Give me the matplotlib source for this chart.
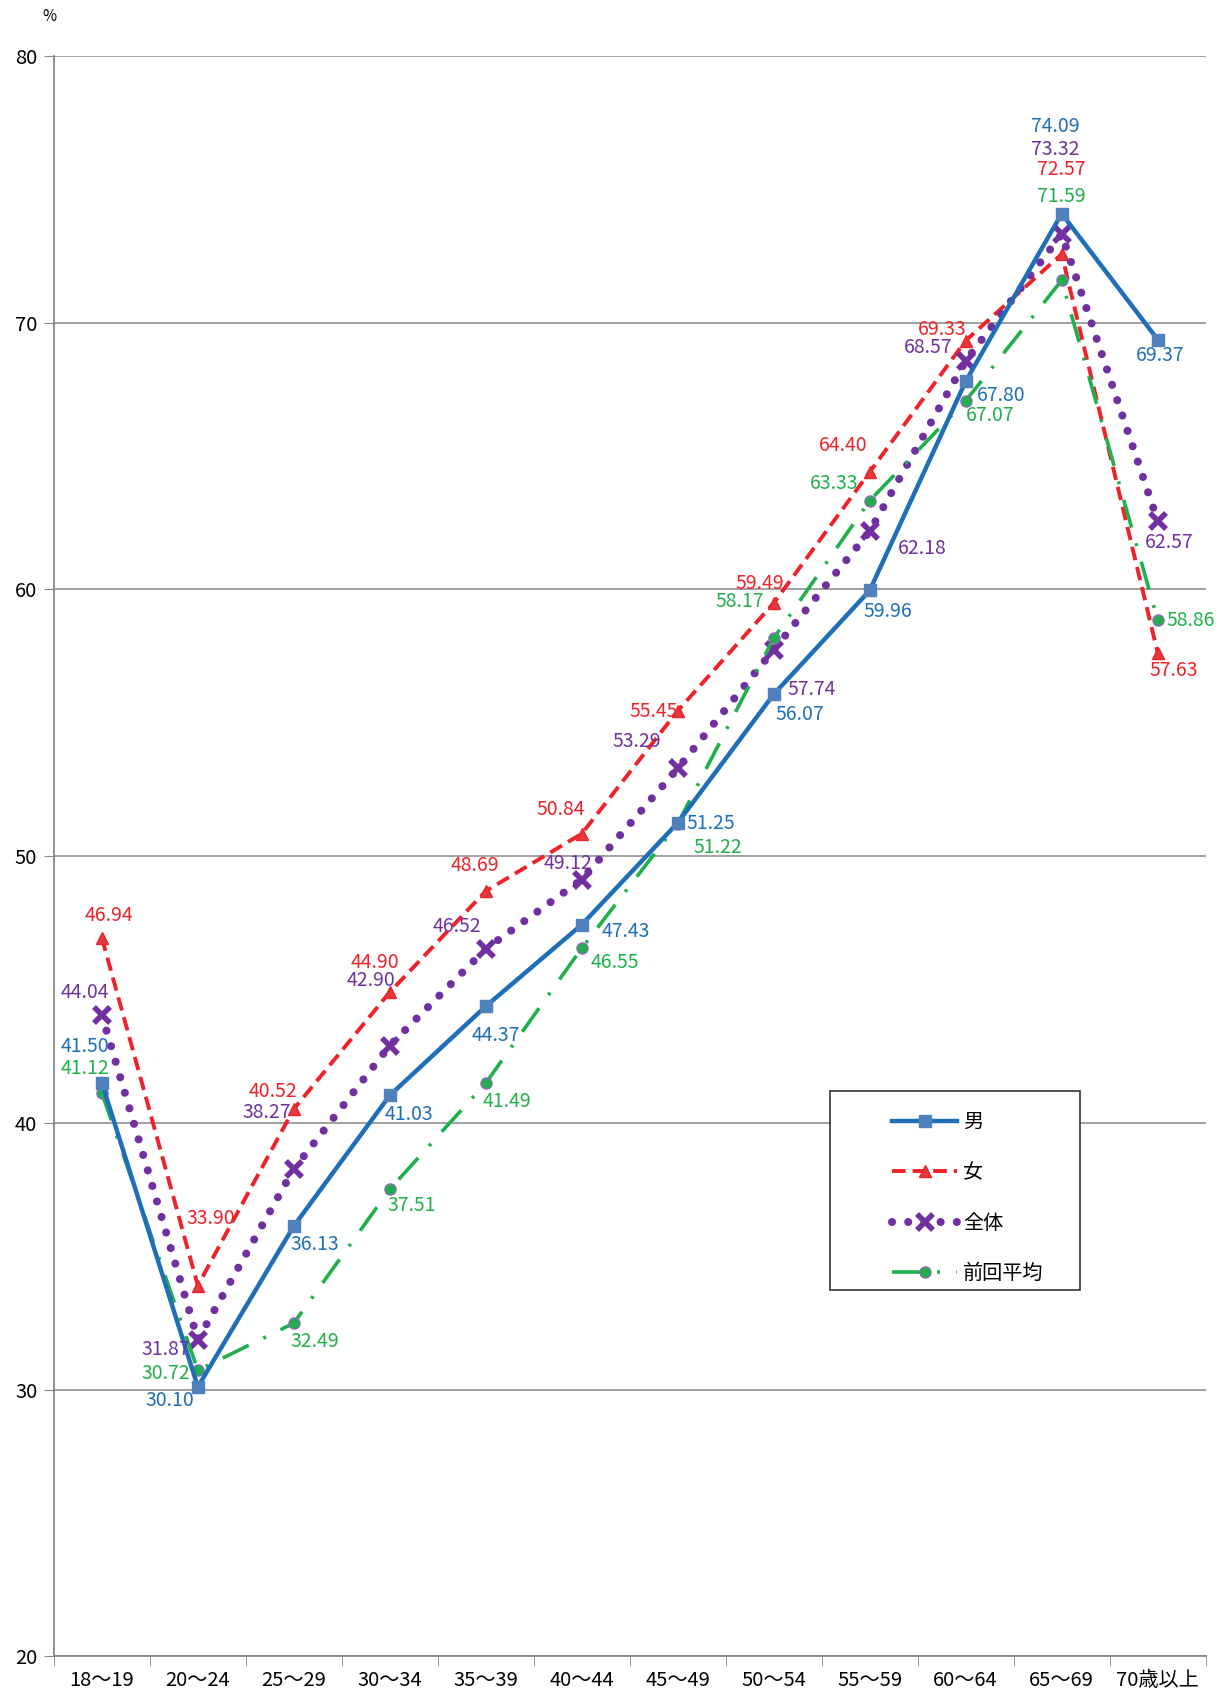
import numpy as np
import matplotlib.pyplot as plt
from matplotlib.patches import Rectangle

plt.rcParams['font.family'] = ['Noto Sans CJK JP', 'DejaVu Sans']

ages = ['18～19', '20～24', '25～29', '30～34', '35～39', '40～44',
        '45～49', '50～54', '55～59', '60～64', '65～69', '70歳以上']
male = [41.50, 30.10, 36.13, 41.03, 44.37, 47.43, 51.25, 56.07, 59.96, 67.80, 74.09, 69.37]
female = [46.94, 33.90, 40.52, 44.90, 48.69, 50.84, 55.45, 59.49, 64.40, 69.33, 72.57, 57.63]
total = [44.04, 31.87, 38.27, 42.90, 46.52, 49.12, 53.29, 57.74, 62.18, 68.57, 73.32, 62.57]
prev = [41.12, 30.72, 32.49, 37.51, 41.49, 46.55, 51.22, 58.17, 63.33, 67.07, 71.59, 58.86]

# label offsets (px, x right / y down)
off_male = [(-16, -34), (-26, 13), (19, 17), (18, 18), (9, 27), (41, 6), (31, 1),
            (24, 19), (17, 19), (33, 13), (-6, -81), (2, 15)]
off_female = [(7, -21), (12, -62), (-19, -16), (-14, -27), (-10, -24), (-19, -22), (-22, 1),
              (-13, -18), (-25, -25), (-22, -10), (0, -78), (15, 17)]
off_total = [(-16, -21), (-30, 9), (-25, -52), (-17, -60), (-27, -21), (-13, -15), (-38, -25),
             (35, 37), (49, 16), (-35, -12), (-6, -78), (11, 20)]
off_prev = [(-16, -23), (-30, 3), (19, 17), (20, 15), (20, 17), (31, 13), (37, 22),
            (-31, -34), (-33, -16), (23, 14), (0, -78), (31, 1)]

c_male, c_female, c_total, c_prev = '#1f6fb8', '#ee2228', '#7030a0', '#20b04b'

fig = plt.figure(figsize=(12.24, 16.97), dpi=100)
ax = fig.add_axes([0.044, 0.024, 0.941, 0.943])
x = np.arange(len(ages))

ax.plot(x, male, color=c_male, lw=3.2, marker='s', ms=8, mfc='#4f81bd', mec='#4f81bd', zorder=4, label='男')
ax.plot(x, female, color=c_female, lw=2.8, ls=(0, (3.5, 1.8)), marker='^', ms=9, mfc='#e0393e',
        mec=c_female, zorder=3, label='女')
ax.plot(x, total, color=c_total, lw=5.8, ls=(0, (0.01, 2.0)), dash_capstyle='round',
        marker='x', ms=12, mew=4, mec=c_total, zorder=3, label='全体')
ax.plot(x, prev, color=c_prev, lw=2.6, ls=(0, (8, 4.5, 0.8, 4.5)), marker='o', ms=8, mfc=c_prev,
        mec='#8e6bb8', mew=1, zorder=3, label='前回平均')

k = 1.08
for vals, offs, col in [(male, off_male, c_male), (female, off_female, c_female),
                        (total, off_total, c_total), (prev, off_prev, c_prev)]:
    for i, v in enumerate(vals):
        dx, dy = offs[i]
        ax.annotate(f'{v:.2f}', (i, v), xytext=(dx * k, -dy * k), textcoords='offset pixels',
                    ha='center', va='center', color=col, fontsize=14, zorder=6)

ax.set_xlim(-0.5, 11.5)
ax.set_ylim(20, 80)
ax.set_yticks(np.arange(20, 81, 10))
ax.set_xticks(x)
ax.set_xticklabels(ages, fontsize=14.5)
ax.set_xticks(np.arange(-0.5, 12, 1), minor=True)
ax.tick_params(axis='x', which='major', length=0, pad=10)
ax.tick_params(axis='x', which='minor', length=7, color='#888888', direction='out')
ax.tick_params(axis='y', length=7, color='#888888', labelsize=14.5, pad=5)
ax.grid(axis='y', color='#999999', lw=1.3)
ax.set_axisbelow(True)
for s in ['top', 'right']:
    ax.spines[s].set_visible(False)
for s in ['left', 'bottom']:
    ax.spines[s].set_color('#888888')
    ax.spines[s].set_linewidth(1.3)

fig.text(0.04, 0.995, '%', fontsize=11, va='top', ha='center')

ax.add_patch(Rectangle((0.674, 0.229), 0.217, 0.124, transform=ax.transAxes,
                       facecolor='white', edgecolor='#333333', lw=1.2, zorder=7))
leg = ax.legend(loc='upper left', bbox_to_anchor=(0.714, 0.350), frameon=False, fontsize=14.5,
                handlelength=3.2, handletextpad=0.3, labelspacing=1.45, borderpad=0.3)
leg.set_zorder(8)

fig.savefig('out.png')
